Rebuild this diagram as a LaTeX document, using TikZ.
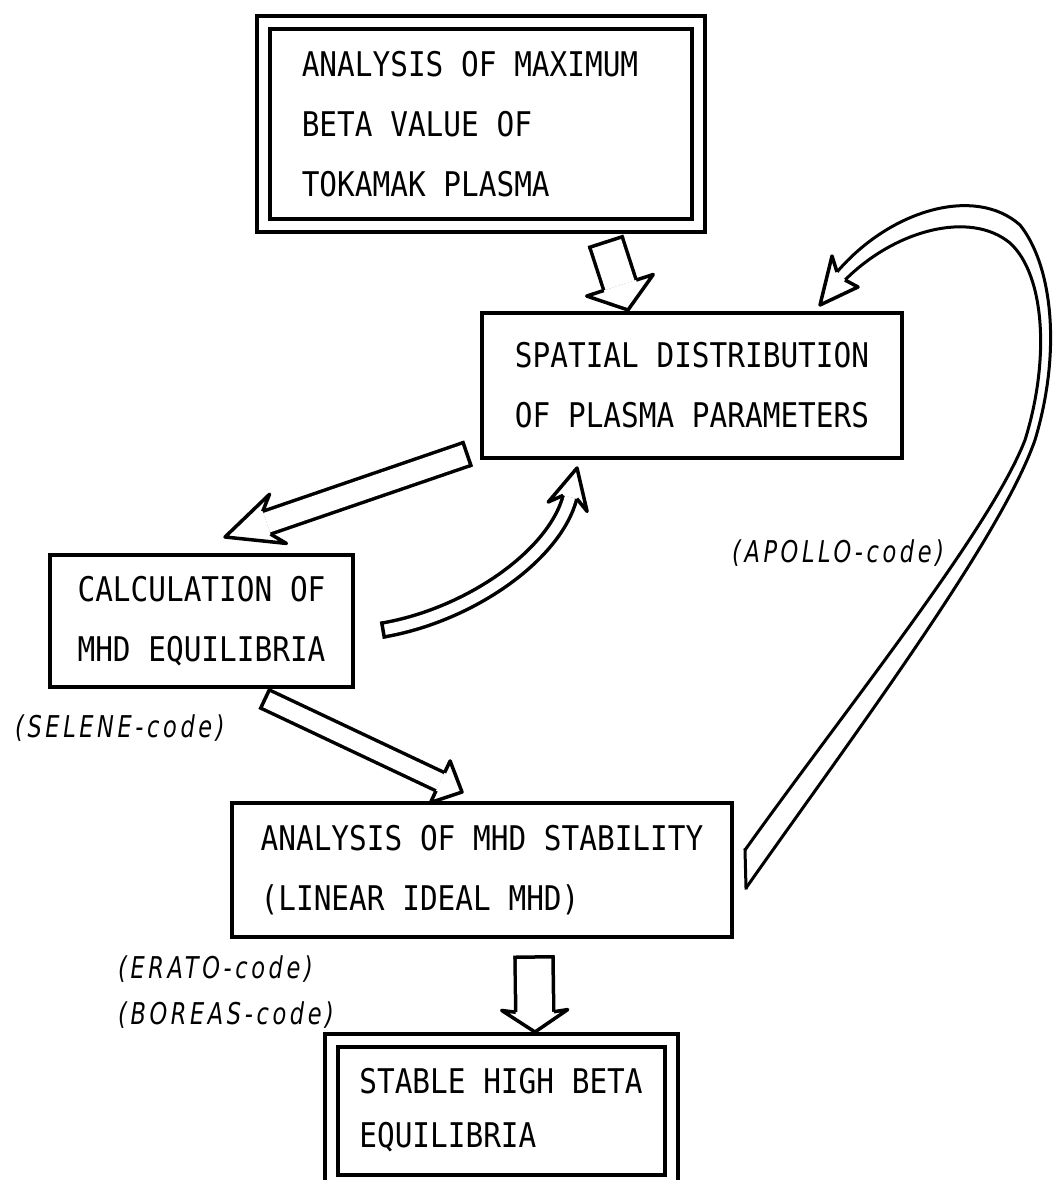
\documentclass[tikz,border=0pt]{standalone}
\usepackage{fontspec}
\usetikzlibrary{calc}
\newfontfamily\boxfont[FakeStretch=0.865]{DejaVu Sans Mono}
\newfontfamily\labfont[FakeStretch=0.75,LetterSpace=12]{DejaVu Sans}
\tikzset{
  boxline/.style={draw, line width=4pt, inner sep=0pt, outer sep=0pt, align=left,
    font=\boxfont\fontsize{34}{60}\selectfont},
  dblbox/.style={double, double distance=9pt},
  arrline/.style={line width=3.5pt, line join=round},
  lab/.style={font=\labfont\itshape\fontsize{30}{36}\selectfont, inner sep=0pt, anchor=west},
}
% arrow head: #1 shaft end E, #2 tip T, #3 shaft half width, #4 head half width, #5 barb offset behind E
\newcommand\bhead[5]{%
  \coordinate (bhb) at ($(#1)!-#5!(#2)$);
  \filldraw[arrline, fill=white] ($(#1)!#3!90:(#2)$) -- ($(bhb)!#4!90:(#2)$) -- (#2)
     -- ($(bhb)!#4!-90:(#2)$) -- ($(#1)!#3!-90:(#2)$);
}
% straight shaft: #1 start, #2 end, #3 half width, #4 double distance
\newcommand\bshaft[4]{%
  \draw[arrline, double, double distance=#4] (#1) -- (#2);
  \draw[arrline, line cap=rect] ($(#1)!#3!90:(#2)$) -- ($(#1)!#3!-90:(#2)$);
}
\begin{document}
\begin{tikzpicture}[x=1pt,y=-1pt]
\useasboundingbox (0,0) rectangle (1052,1180);
\fill[white] (0,0) rectangle (1052,1180);

% boxes
\node[boxline, dblbox, minimum width=435.5pt, minimum height=202pt] (topbox) at (481,124)
  {ANALYSIS OF MAXIMUM\hspace*{22pt}\\BETA VALUE OF\\TOKAMAK PLASMA};
\node[boxline, minimum width=420pt, minimum height=145pt] (spat) at (692,385.5)
  {SPATIAL DISTRIBUTION\\OF PLASMA PARAMETERS};
\node[boxline, minimum width=303pt, minimum height=132pt] (calcbox) at (201.5,621)
  {CALCULATION OF\\MHD EQUILIBRIA};
\node[boxline, minimum width=500pt, minimum height=134pt] (stab) at (482,870)
  {ANALYSIS OF MHD STABILITY\\(LINEAR IDEAL MHD)};
\node[boxline, dblbox, minimum width=340pt, minimum height=141pt,
  font=\boxfont\fontsize{34}{54}\selectfont] (final) at (501,1110.5)
  {STABLE HIGH BETA\\EQUILIBRIA};

% labels
\node[lab] (apollo) at (732,553) {(APOLLO-code)};
\node[lab] (selene) at (15,728) {(SELENE-code)};
\node[lab] (erato) at (118,969) {(ERATO-code)};
\node[lab] (boreas) at (118,1015) {(BOREAS-code)};

% A1: top box -> spatial distribution
\coordinate (a1S) at ($(topbox.south)+(125,17)$);
\coordinate (a1T) at ($(spat.north)+(-64,-3)$);
\coordinate (a1E) at ($(a1T)!26pt!(a1S)$);
\bshaft{a1S}{a1E}{17pt}{30.5pt}
\bhead{a1E}{a1T}{17pt}{35pt}{0pt}

% A2: spatial distribution -> calculation
\coordinate (a2S) at ($(spat.south west)+(-15,-4)$);
\coordinate (a2T) at ($(calcbox.north)+(23.5,-18)$);
\coordinate (a2E) at ($(a2T)!44pt!(a2S)$);
\bshaft{a2S}{a2E}{12pt}{20.5pt}
\bhead{a2E}{a2T}{12pt}{26pt}{12pt}

% A3: calculation -> spatial distribution (curved)
\coordinate (a3S) at ($(calcbox.east)+(30,9)$);
\coordinate (a3T) at ($(spat.south)+(-115,10)$);
\coordinate (a3E) at ($(a3T)+(-7,29)$);
\coordinate (a3c1) at (470,615);
\coordinate (a3c2) at (555,555);
\draw[arrline, double, double distance=10.5pt] (a3S) .. controls (a3c1) and (a3c2) .. (a3E);
\draw[arrline, line cap=rect] ($(a3S)!7pt!90:(a3c1)$) -- ($(a3S)!7pt!-90:(a3c1)$);
\bhead{a3E}{a3T}{7pt}{20pt}{10pt}

% A4: calculation -> stability
\coordinate (a4S) at ($(calcbox.south)+(63.5,12)$);
\coordinate (a4T) at ($(stab.north)+(-20,-11)$);
\coordinate (a4E) at ($(a4T)!24pt!(a4S)$);
\bshaft{a4S}{a4E}{10pt}{16.5pt}
\bhead{a4E}{a4T}{10pt}{23pt}{0pt}

% A5: stability -> stable high beta
\coordinate (a5S) at ($(stab.south)+(52,20)$);
\coordinate (a5T) at ($(final.north)+(34,-8)$);
\coordinate (a5E) at ($(a5T)!20pt!(a5S)$);
\bshaft{a5S}{a5E}{19pt}{34.5pt}
\bhead{a5E}{a5T}{19pt}{33pt}{2pt}

% APOLLO: stability -> spatial distribution (big loop)
\coordinate (apS) at ($(stab.east)+(13,-1)$);
\coordinate (apT) at ($(spat.north)+(128,-8)$);
\coordinate (apI) at ($(apS)+(0,-19)$);
\coordinate (apO) at ($(apS)+(1,19)$);
\coordinate (apNo) at ($(apT)+(17,-33)$);
\coordinate (apNi) at ($(apT)+(25,-25)$);
\draw[arrline, line width=3pt] (apI) .. controls (845,710) and (990,530) .. (1025,440)
  .. controls (1050,360) and (1045,275) .. (1010,243)
  .. controls (970,210) and (895,230) .. (apNi);
\draw[arrline, line width=3pt] (apO) .. controls (850,740) and (1000,540) .. (1035,440)
  .. controls (1062,350) and (1052,265) .. (1020,225)
  .. controls (975,185) and (890,210) .. (apNo);
\draw[arrline, line width=3pt, line cap=rect] (apI) -- (apO);
\filldraw[arrline, fill=white] (apNo) -- ($(apT)+(12,-49)$) -- (apT) -- ($(apT)+(38,-18)$) -- (apNi);
\end{tikzpicture}
\end{document}
